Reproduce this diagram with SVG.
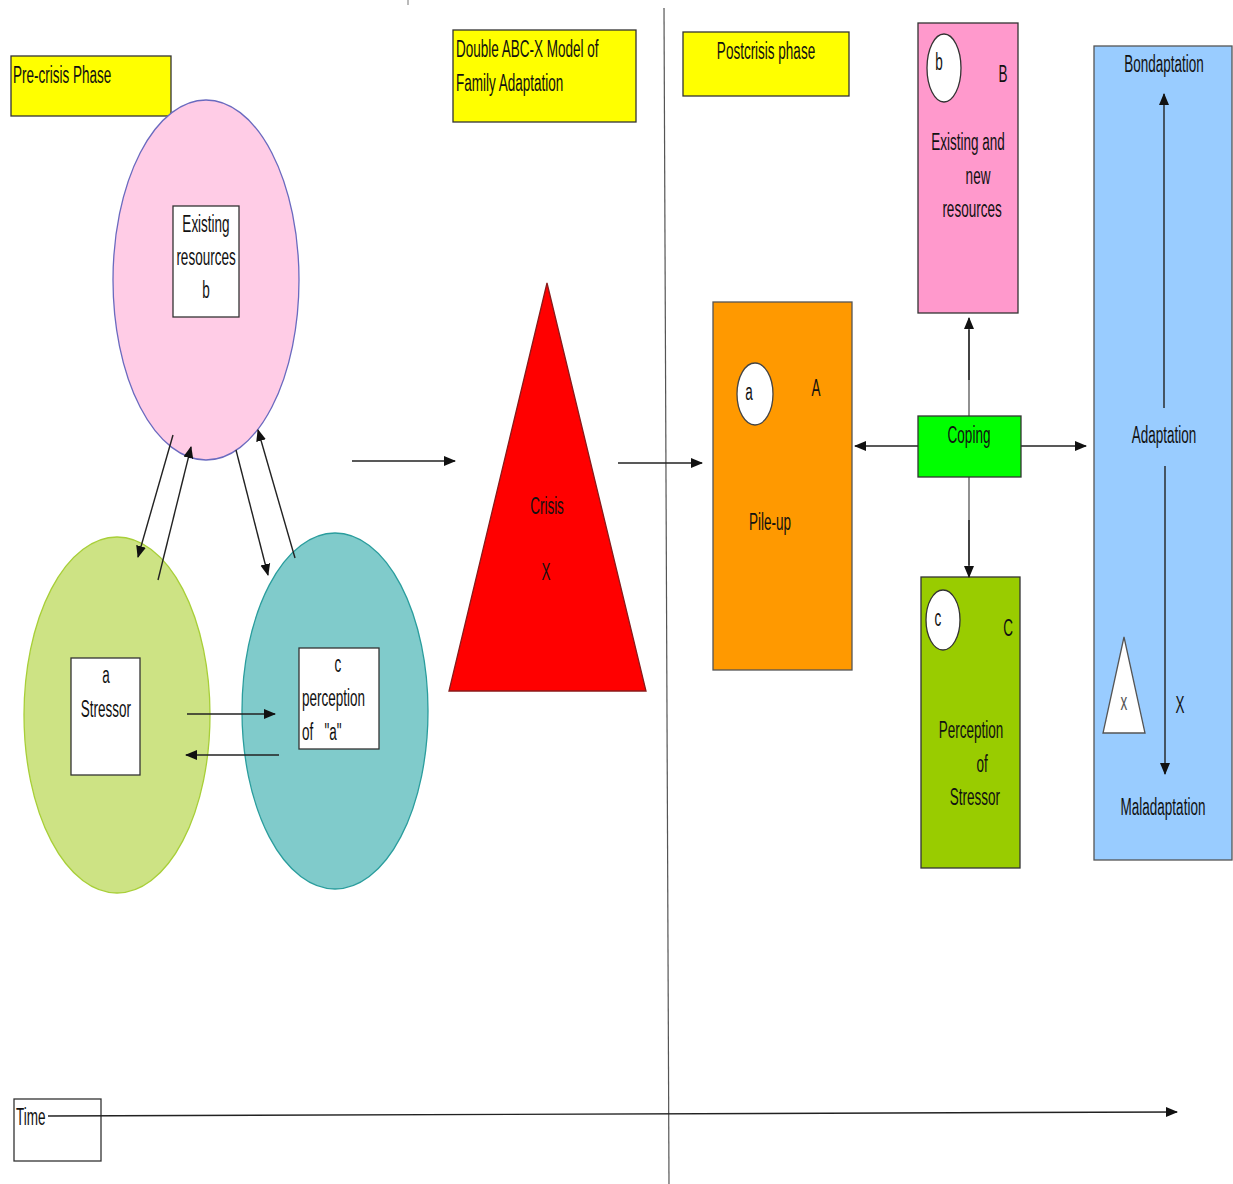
<svg xmlns="http://www.w3.org/2000/svg" width="1233" height="1184" viewBox="0 0 1233 1184">
  <style>
    .t { font-family: "Liberation Sans", Arial, sans-serif; font-size: 13.5px; fill: #111; }
    .m { text-anchor: middle; }
    .box { stroke: #333; stroke-width: 1.3; }
    .yel { fill: #ffff00; }
    .wht { fill: #ffffff; }
    .ln { stroke: #222; stroke-width: 1.4; fill: none; }
    .arr { stroke: #222; stroke-width: 1.4; fill: none; marker-end: url(#ah); }
  </style>
  <defs>
    <marker id="ah" markerUnits="userSpaceOnUse" markerWidth="12" markerHeight="12" viewBox="0 0 12 12" refX="11" refY="6" orient="auto">
      <path d="M0,1 L12,6 L0,11 Z" fill="#111"/>
    </marker>
  </defs>

  <rect width="1233" height="1184" fill="#ffffff"/>

  <!-- phase divider -->
  <line x1="408" y1="0" x2="408" y2="5" stroke="#777" stroke-width="1"/>
  <line x1="664" y1="8" x2="669" y2="1184" stroke="#555" stroke-width="1.2"/>

  <!-- title boxes -->
  <g id="pre-crisis">
    <rect class="box yel" x="11" y="56" width="160" height="60"/>
    <text class="t" transform="translate(13,83) scale(1,1.75)">Pre-crisis Phase</text>
  </g>
  <g id="model-title">
    <rect class="box yel" x="453" y="30" width="183" height="92"/>
    <text class="t" transform="translate(456,57) scale(1,1.75)">Double ABC-X Model of</text>
    <text class="t" transform="translate(456,91) scale(1,1.75)">Family Adaptation</text>
  </g>
  <g id="postcrisis">
    <rect class="box yel" x="683" y="32" width="166" height="64"/>
    <text class="t m" transform="translate(766,59) scale(1,1.75)">Postcrisis phase</text>
  </g>

  <!-- pre-crisis circles -->
  <g id="resources-b">
    <ellipse cx="206" cy="280" rx="93" ry="180" fill="#ffcce6" stroke="#6a6abf" stroke-width="1.3"/>
    <rect class="box wht" x="173" y="206" width="66" height="111"/>
    <text class="t m" transform="translate(206,232) scale(1,1.75)">Existing</text>
    <text class="t m" transform="translate(206,265) scale(1,1.75)">resources</text>
    <text class="t m" transform="translate(206,298) scale(1,1.75)">b</text>
  </g>
  <g id="stressor-a">
    <ellipse cx="117" cy="715" rx="93" ry="178" fill="#cde384" stroke="#a8cf38" stroke-width="1.3"/>
    <rect class="box wht" x="71" y="658" width="69" height="117"/>
    <text class="t m" transform="translate(106,683) scale(1,1.75)">a</text>
    <text class="t m" transform="translate(106,717) scale(1,1.75)">Stressor</text>
  </g>
  <g id="perception-c">
    <ellipse cx="335" cy="711" rx="93" ry="178" fill="#80cbcb" stroke="#2a9d9d" stroke-width="1.3"/>
    <rect class="box wht" x="299" y="648" width="80" height="101"/>
    <text class="t m" transform="translate(338,672) scale(1,1.75)">c</text>
    <text class="t" transform="translate(302,706) scale(1,1.75)">perception</text>
    <text class="t" transform="translate(302,740) scale(1,1.75)" xml:space="preserve">of   "a"</text>
  </g>

  <!-- crisis -->
  <g id="crisis-x">
    <polygon points="547,283 646,691 449,691" fill="#ff0000" stroke="#8a1a1a" stroke-width="1.3"/>
    <text class="t m" transform="translate(547,514) scale(1,1.75)">Crisis</text>
    <text class="t m" transform="translate(546,580) scale(1,1.75)">X</text>
  </g>

  <!-- postcrisis factors -->
  <g id="pile-up">
    <rect x="713" y="302" width="139" height="368" fill="#ff9900" stroke="#555" stroke-width="1.3"/>
    <ellipse cx="755" cy="394" rx="18" ry="31" fill="#ffffff" stroke="#444" stroke-width="1.3"/>
    <text class="t m" transform="translate(749,400) scale(1,1.75)">a</text>
    <text class="t m" transform="translate(816,396) scale(1,1.75)">A</text>
    <text class="t m" transform="translate(770,530) scale(1,1.75)">Pile-up</text>
  </g>
  <g id="resources-B">
    <rect x="918" y="23" width="100" height="290" fill="#ff99cc" stroke="#333" stroke-width="1.3"/>
    <ellipse cx="944" cy="68" rx="17" ry="34" fill="#ffffff" stroke="#333" stroke-width="1.3"/>
    <text class="t m" transform="translate(939,70) scale(1,1.75)">b</text>
    <text class="t m" transform="translate(1003,82) scale(1,1.75)">B</text>
    <text class="t m" transform="translate(968,150) scale(1,1.75)">Existing and</text>
    <text class="t m" transform="translate(978,184) scale(1,1.75)">new</text>
    <text class="t m" transform="translate(972,217) scale(1,1.75)">resources</text>
  </g>
  <g id="perception-C">
    <rect x="921" y="577" width="99" height="291" fill="#99cc00" stroke="#333" stroke-width="1.3"/>
    <ellipse cx="943" cy="620" rx="17" ry="30" fill="#ffffff" stroke="#333" stroke-width="1.3"/>
    <text class="t m" transform="translate(938,626) scale(1,1.75)">c</text>
    <text class="t m" transform="translate(1008,636) scale(1,1.75)">C</text>
    <text class="t m" transform="translate(971,738) scale(1,1.75)">Perception</text>
    <text class="t m" transform="translate(982,772) scale(1,1.75)">of</text>
    <text class="t m" transform="translate(975,805) scale(1,1.75)">Stressor</text>
  </g>

  <!-- time label box (axis line runs out of it) -->
  <g id="time">
    <rect x="14" y="1099" width="87" height="62" fill="#ffffff" stroke="#333" stroke-width="1.3"/>
    <text class="t" transform="translate(16,1125) scale(1,1.75)">Time</text>
  </g>

  <!-- connectors -->
  <g id="connectors">
    <line class="arr" x1="173" y1="435" x2="138" y2="557"/>
    <line class="arr" x1="158" y1="580" x2="191" y2="447"/>
    <line class="arr" x1="236" y1="450" x2="268" y2="575"/>
    <line class="arr" x1="295" y1="558" x2="258" y2="430"/>
    <line class="arr" x1="187" y1="714" x2="275" y2="714"/>
    <line class="arr" x1="279" y1="755" x2="186" y2="755"/>
    <line class="arr" x1="352" y1="461" x2="455" y2="461"/>
    <line class="arr" x1="618" y1="463" x2="702" y2="463"/>
    <line x1="969" y1="330" x2="969" y2="565" stroke="#555" stroke-width="1.3"/>
    <line class="arr" x1="969" y1="380" x2="969" y2="318"/>
    <line class="arr" x1="969" y1="520" x2="969" y2="577"/>
    <line class="arr" x1="918" y1="446" x2="855" y2="446"/>
    <line class="arr" x1="1021" y1="446" x2="1086" y2="446"/>
    <line class="arr" x1="48" y1="1116" x2="1177" y2="1112"/>
  </g>

  <!-- coping sits over the vertical connector -->
  <g id="coping">
    <rect x="918" y="416" width="103" height="61" fill="#00ff00" stroke="#333" stroke-width="1.3"/>
    <text class="t m" transform="translate(969,443) scale(1,1.75)">Coping</text>
  </g>

  <!-- adaptation outcome continuum -->
  <g id="adaptation">
    <rect x="1094" y="46" width="138" height="814" fill="#99ccff" stroke="#555" stroke-width="1.3"/>
    <text class="t m" transform="translate(1164,72) scale(1,1.75)">Bondaptation</text>
    <line class="arr" x1="1164" y1="408" x2="1164" y2="94"/>
    <text class="t m" transform="translate(1164,443) scale(1,1.75)">Adaptation</text>
    <line class="arr" x1="1165" y1="466" x2="1165" y2="774"/>
    <text class="t m" transform="translate(1180,713) scale(1,1.75)">X</text>
    <polygon points="1124,637 1145,733 1103,733" fill="#ffffff" stroke="#555" stroke-width="1.3"/>
    <text class="t m" style="fill:#555" transform="translate(1124,710) scale(1,1.75)">x</text>
    <text class="t m" transform="translate(1163,815) scale(1,1.75)">Maladaptation</text>
  </g>
</svg>
